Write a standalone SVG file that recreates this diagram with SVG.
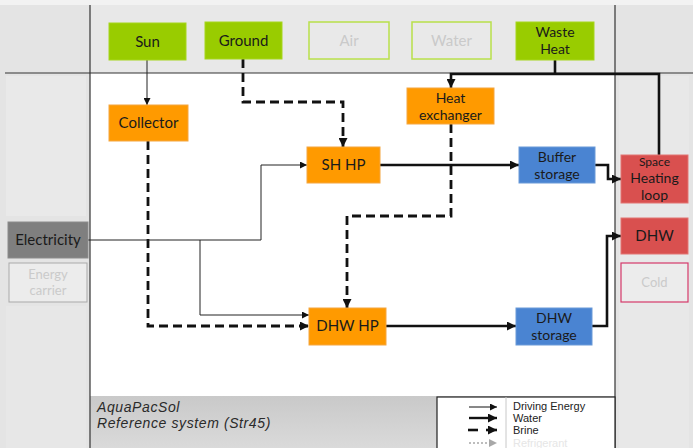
<svg xmlns="http://www.w3.org/2000/svg" width="693" height="448" viewBox="0 0 693 448">
  <defs>
    <linearGradient id="band" x1="0" y1="0" x2="0" y2="1">
      <stop offset="0" stop-color="#c9c9c9"/>
      <stop offset="1" stop-color="#dadada"/>
    </linearGradient>
    <marker id="ahThin" viewBox="0 0 10 10" refX="10" refY="5" markerWidth="7" markerHeight="7" markerUnits="userSpaceOnUse" orient="auto">
      <path d="M0,0 L10,5 L0,10 z" fill="#111"/>
    </marker>
    <marker id="ahThick" viewBox="0 0 10 10" refX="10" refY="5" markerWidth="9" markerHeight="9" markerUnits="userSpaceOnUse" orient="auto">
      <path d="M0,0 L10,5 L0,10 z" fill="#111"/>
    </marker>
    <marker id="ahDot" viewBox="0 0 10 10" refX="10" refY="5" markerWidth="8" markerHeight="8" markerUnits="userSpaceOnUse" orient="auto">
      <path d="M0,0 L10,5 L0,10 z" fill="#a8a8a8"/>
    </marker>
  </defs>
  <style>
    .lbl { font-family: Lato, "Open Sans", "Liberation Sans", sans-serif; font-size: 15px; text-anchor: middle; fill: #1a1a1a; }
    .two { font-size: 14px; }
    .faint { fill: #cacaca; }
    .src { fill: #99cc00; stroke: #a6d61c; stroke-width: 1; }
    .srcOff { fill: #e9e9e9; stroke: #b8e04a; stroke-width: 1.5; }
    .conv { fill: #ff9a00; stroke: #f4a640; stroke-width: 1; }
    .store { fill: #4a84d2; stroke: #6a9ad8; stroke-width: 1; }
    .sink { fill: #d9504f; stroke: #e27472; stroke-width: 1; }
    .thin { fill: none; stroke: #222; stroke-width: 1; marker-end: url(#ahThin); }
    .water { fill: none; stroke: #111; stroke-width: 2.6; }
    .brine { fill: none; stroke: #111; stroke-width: 2.8; stroke-dasharray: 9 5; }
    .frame { stroke: #333; stroke-width: 1.2; }
    .leg { font-family: "Liberation Sans", Arial, sans-serif; font-size: 11px; fill: #222; }
    .foot { font-family: "Liberation Sans", Arial, sans-serif; font-size: 14px; font-style: italic; letter-spacing: 0.6px; fill: #2a2a2a; }
  </style>

  <!-- background panels -->
  <rect x="0" y="0" width="693" height="448" fill="#f2f2f2"/>
  <rect x="0" y="5" width="693" height="443" fill="#e4e4e4"/>
  <rect x="90" y="5" width="525" height="68" fill="#e8e8e8"/>
  <rect x="6" y="76" width="80" height="140" fill="#e9e9e9"/>
  <rect x="6" y="306" width="80" height="142" fill="#e7e7e7"/>
  <rect x="619" y="76" width="70" height="372" fill="#e8e8e8"/>
  <rect x="90" y="73" width="525" height="323" fill="#ffffff"/>
  <rect x="90" y="396" width="525" height="52" fill="url(#band)"/>

  <!-- frame lines -->
  <line class="frame" x1="5" y1="73" x2="693" y2="73"/>
  <line class="frame" x1="90" y1="5" x2="90" y2="448"/>
  <line class="frame" x1="615" y1="5" x2="615" y2="448"/>

  <!-- connectors -->
  <g id="connectors">
    <path class="thin" d="M147,60 V105"/>
    <path class="brine" d="M243,59 V102 H343 V147" marker-end="url(#ahThick)"/>
    <path class="water" d="M555,60 V74"/>
    <path class="water" d="M659,155 V74 H451 V88" marker-end="url(#ahThick)"/>
    <path class="brine" d="M451,124 V216 H347 V308" marker-end="url(#ahThick)"/>
    <path class="brine" d="M148,141 V326 H309" marker-end="url(#ahThick)"/>
    <path class="thin" d="M88,240 H261 V165 H307"/>
    <path class="thin" d="M200,240 V315 H309"/>
    <path class="water" d="M380,165 H519" marker-end="url(#ahThick)"/>
    <path class="water" d="M595,165 H608 V179 H621" marker-end="url(#ahThick)"/>
    <path class="water" d="M386,326 H516" marker-end="url(#ahThick)"/>
    <path class="water" d="M592,326 H607 V236 H621" marker-end="url(#ahThick)"/>
  </g>

  <!-- energy sources -->
  <g id="sun">
    <rect class="src" x="109" y="23" width="77" height="37"/>
    <text class="lbl" x="147.5" y="47">Sun</text>
  </g>
  <g id="ground">
    <rect class="src" x="205" y="22" width="77" height="37"/>
    <text class="lbl" x="243.5" y="46">Ground</text>
  </g>
  <g id="air">
    <rect class="srcOff" x="309" y="22" width="80" height="37" stroke="#d3ec98"/>
    <text class="lbl faint" x="349" y="46">Air</text>
  </g>
  <g id="water">
    <rect class="srcOff" x="412" y="22" width="79" height="37"/>
    <text class="lbl faint" x="451.5" y="46">Water</text>
  </g>
  <g id="waste-heat">
    <rect class="src" x="516" y="22" width="78" height="38" fill="#8fcf2a"/>
    <text class="lbl two" x="555" y="37">Waste<tspan x="555" dy="17">Heat</tspan></text>
  </g>

  <!-- converters -->
  <g id="collector">
    <rect class="conv" x="109" y="105" width="79" height="36"/>
    <text class="lbl" x="148.5" y="128">Collector</text>
  </g>
  <g id="heat-exchanger">
    <rect class="conv" x="407" y="88" width="87" height="36"/>
    <text class="lbl two" x="450.5" y="103">Heat<tspan x="450.5" dy="17">exchanger</tspan></text>
  </g>
  <g id="sh-hp">
    <rect class="conv" x="307" y="147" width="73" height="36"/>
    <text class="lbl" x="343.5" y="170">SH HP</text>
  </g>
  <g id="dhw-hp">
    <rect class="conv" x="309" y="308" width="77" height="37"/>
    <text class="lbl" x="347.5" y="331">DHW HP</text>
  </g>

  <!-- storages -->
  <g id="buffer-storage">
    <rect class="store" x="519" y="147" width="76" height="36"/>
    <text class="lbl two" x="557" y="162" fill="#14233f">Buffer<tspan x="557" dy="17">storage</tspan></text>
  </g>
  <g id="dhw-storage">
    <rect class="store" x="516" y="308" width="76" height="37"/>
    <text class="lbl two" x="554" y="323" fill="#14233f">DHW<tspan x="554" dy="17">storage</tspan></text>
  </g>

  <!-- energy carriers -->
  <g id="electricity">
    <rect x="8" y="222" width="80" height="36" fill="#7f7f7f" stroke="#8c8c8c"/>
    <text class="lbl" x="48" y="245" fill="#111">Electricity</text>
  </g>
  <g id="energy-carrier">
    <rect x="9" y="263" width="78" height="39" fill="#ececec" stroke="#a9a9a9" stroke-width="1"/>
    <text class="lbl faint" x="48" y="279" style="font-size:13px">Energy<tspan x="48" dy="16">carrier</tspan></text>
  </g>

  <!-- demands -->
  <g id="space-heating-loop">
    <rect class="sink" x="621" y="155" width="67" height="48"/>
    <text class="lbl" x="654.5" y="166" fill="#3a0b0b" style="font-size:12px">Space<tspan x="654.5" dy="17" style="font-size:14px">Heating</tspan><tspan x="654.5" dy="17" style="font-size:14px">loop</tspan></text>
  </g>
  <g id="dhw">
    <rect class="sink" x="621" y="218" width="67" height="36"/>
    <text class="lbl" x="654.5" y="241" fill="#3a0b0b">DHW</text>
  </g>
  <g id="cold">
    <rect x="621" y="263" width="67" height="39" fill="#ececec" stroke="#d5396a" stroke-width="1.2"/>
    <text class="lbl faint" x="654.5" y="287" style="font-size:13px">Cold</text>
  </g>

  <!-- title -->
  <text class="foot" x="97" y="412">AquaPacSol<tspan x="97" dy="16">Reference system (Str45)</tspan></text>

  <!-- legend -->
  <g id="legend">
    <rect x="437" y="397" width="178" height="52" fill="#ffffff" stroke="#222" stroke-width="1.2"/>
    <line x1="506" y1="397" x2="506" y2="448" stroke="#c8c8c8" stroke-width="1"/>
    <path d="M469,407 H497" stroke="#111" stroke-width="1" fill="none" marker-end="url(#ahThin)"/>
    <path d="M469,418 H497" stroke="#111" stroke-width="2.4" fill="none" marker-end="url(#ahThick)"/>
    <path d="M468,430 H478" stroke="#111" stroke-width="2.6" fill="none"/>
    <path d="M486,430 H497" stroke="#111" stroke-width="2.6" fill="none" marker-end="url(#ahThick)"/>
    <path d="M469,443 H497" stroke="#a8a8a8" stroke-width="1.6" stroke-dasharray="2 2" fill="none" marker-end="url(#ahDot)"/>
    <text class="leg" x="513" y="410">Driving Energy<tspan x="513" dy="12">Water</tspan><tspan x="513" dy="12">Brine</tspan><tspan x="513" dy="13" fill="#e6e6e6">Refrigerant</tspan></text>
  </g>
</svg>
